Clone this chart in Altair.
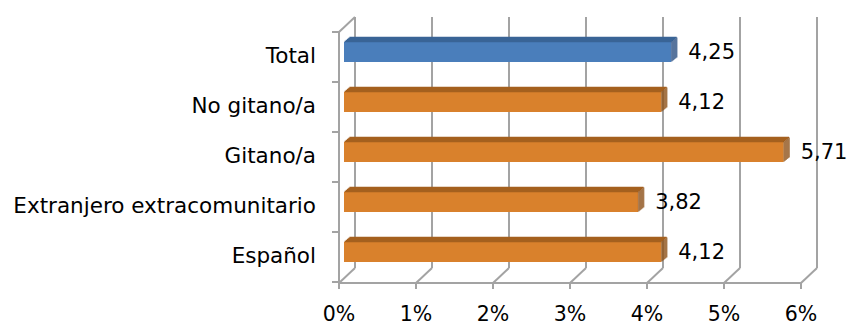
import altair as alt
import pandas as pd

categories = ["Total", "No gitano/a", "Gitano/a", "Extranjero extracomunitario", "Español"]
values = [4.25, 4.12, 5.71, 3.82, 4.12]
value_labels = ["4,25", "4,12", "5,71", "3,82", "4,12"]
groups = ["total", "grupo", "grupo", "grupo", "grupo"]
tick_values = [0, 1, 2, 3, 4, 5, 6]
tick_labels = ["0%", "1%", "2%", "3%", "4%", "5%", "6%"]

df = pd.DataFrame({"cat": categories, "value": values, "label": value_labels, "group": groups, "zero": 0})
ticks = pd.DataFrame({"v": tick_values, "t": tick_labels})

FONT = "DejaVu Sans"
GRID = "#A3A3A3"
front_x = alt.Scale(domain=[0, 6], range=[339, 801])
bar_x = alt.Scale(domain=[0, 6], range=[344, 806])
frame_y = alt.Scale(domain=categories, range=[32, 282], paddingInner=0, paddingOuter=0)
bar_y = alt.Scale(domain=categories, range=[27, 277], paddingInner=0, paddingOuter=0)
front_col = alt.Scale(domain=["total", "grupo"], range=["#4A7EBB", "#D9812C"])
top_col = alt.Scale(domain=["total", "grupo"], range=["#3A6496", "#A5601F"])
side_col = alt.Scale(domain=["total", "grupo"], range=["#2F5384", "#8E5219"])

base_t = alt.Chart(ticks)
base_d = alt.Chart(df)

# back wall gridlines
grid = base_t.mark_rule(color=GRID, strokeWidth=2, xOffset=16).encode(
    x=alt.X("v:Q", scale=front_x, axis=None), y=alt.value(17), y2=alt.value(268))
# floor diagonals
diag = base_t.mark_rule(color=GRID, strokeWidth=2, x2Offset=16).encode(
    x=alt.X("v:Q", scale=front_x, axis=None), x2="v:Q", y=alt.value(283), y2=alt.value(268))
# floor ticks
fticks = base_t.mark_rule(color=GRID, strokeWidth=2).encode(
    x=alt.X("v:Q", scale=front_x, axis=None), y=alt.value(283), y2=alt.value(289))
# front floor line
floor = alt.Chart(pd.DataFrame({"a": [0], "b": [6]})).mark_rule(color=GRID, strokeWidth=2).encode(
    x=alt.X("a:Q", scale=front_x, axis=None), x2="b:Q", y=alt.value(283))
# left front axis line
laxis = alt.Chart(pd.DataFrame({"a": [0]})).mark_rule(color=GRID, strokeWidth=2).encode(
    x=alt.X("a:Q", scale=front_x, axis=None), y=alt.value(32), y2=alt.value(283))
# top-left diagonal
ldiag = alt.Chart(pd.DataFrame({"a": [0]})).mark_rule(color=GRID, strokeWidth=2, x2Offset=16).encode(
    x=alt.X("a:Q", scale=front_x, axis=None), x2="a:Q", y=alt.value(32), y2=alt.value(17))
# left ticks
lt1 = base_d.mark_rule(color=GRID, strokeWidth=2, xOffset=-7).encode(
    x=alt.X("zero:Q", scale=front_x, axis=None), x2="zero:Q",
    y=alt.Y("cat:N", scale=frame_y, axis=None, bandPosition=0))
lt2 = base_d.mark_rule(color=GRID, strokeWidth=2, xOffset=-7).encode(
    x=alt.X("zero:Q", scale=front_x, axis=None), x2="zero:Q",
    y=alt.Y("cat:N", scale=frame_y, axis=None, bandPosition=1))

layers = [grid, diag, fticks, floor, laxis, ldiag, lt1, lt2]

# bar front faces
bars = base_d.mark_bar(size=20).encode(
    x=alt.X("zero:Q", scale=bar_x, axis=None), x2="value:Q",
    y=alt.Y("cat:N", scale=bar_y, axis=None),
    color=alt.Color("group:N", scale=front_col, legend=None))
layers.append(bars)

# bar top faces (slanted strips)
for k in range(5):
    off = (k + 0.5) * 6 / 5
    layers.append(base_d.mark_rule(strokeWidth=1.4, xOffset=off, x2Offset=off, yOffset=-(10 + k + 0.5)).encode(
        x=alt.X("zero:Q", scale=bar_x, axis=None), x2="value:Q",
        y=alt.Y("cat:N", scale=bar_y, axis=None),
        color=alt.Color("group:N", scale=top_col, legend=None)))
# bar side faces
for j in range(6):
    layers.append(base_d.mark_tick(size=20, thickness=1.5, xOffset=j + 0.5, yOffset=-(j + 0.5) * 5 / 6).encode(
        x=alt.X("value:Q", scale=bar_x, axis=None),
        y=alt.Y("cat:N", scale=bar_y, axis=None),
        color=alt.Color("group:N", scale=side_col, legend=None)))

# value labels
vlab = base_d.mark_text(font=FONT, fontSize=21, align="left", baseline="middle", xOffset=17, yOffset=1, color="#000000").encode(
    x=alt.X("value:Q", scale=bar_x, axis=None),
    y=alt.Y("cat:N", scale=bar_y, axis=None), text="label:N")
# category labels
clab = base_d.mark_text(font=FONT, fontSize=21.5, align="right", baseline="middle", color="#000000").encode(
    x=alt.value(316), y=alt.Y("cat:N", scale=frame_y, axis=None), text="cat:N")
# percent labels
plab = base_t.mark_text(font=FONT, fontSize=20.5, align="center", baseline="alphabetic", color="#000000").encode(
    x=alt.X("v:Q", scale=front_x, axis=None), y=alt.value(321), text="t:N")
layers += [vlab, clab, plab]

chart = alt.layer(*layers).resolve_scale(x="independent", y="independent", color="independent").properties(
    width=849, height=327, autosize=alt.AutoSizeParams(type="none"), padding=0, background="white"
).configure_view(stroke=None)

chart.save("out.html", embed_options={"renderer": "svg", "actions": False})
